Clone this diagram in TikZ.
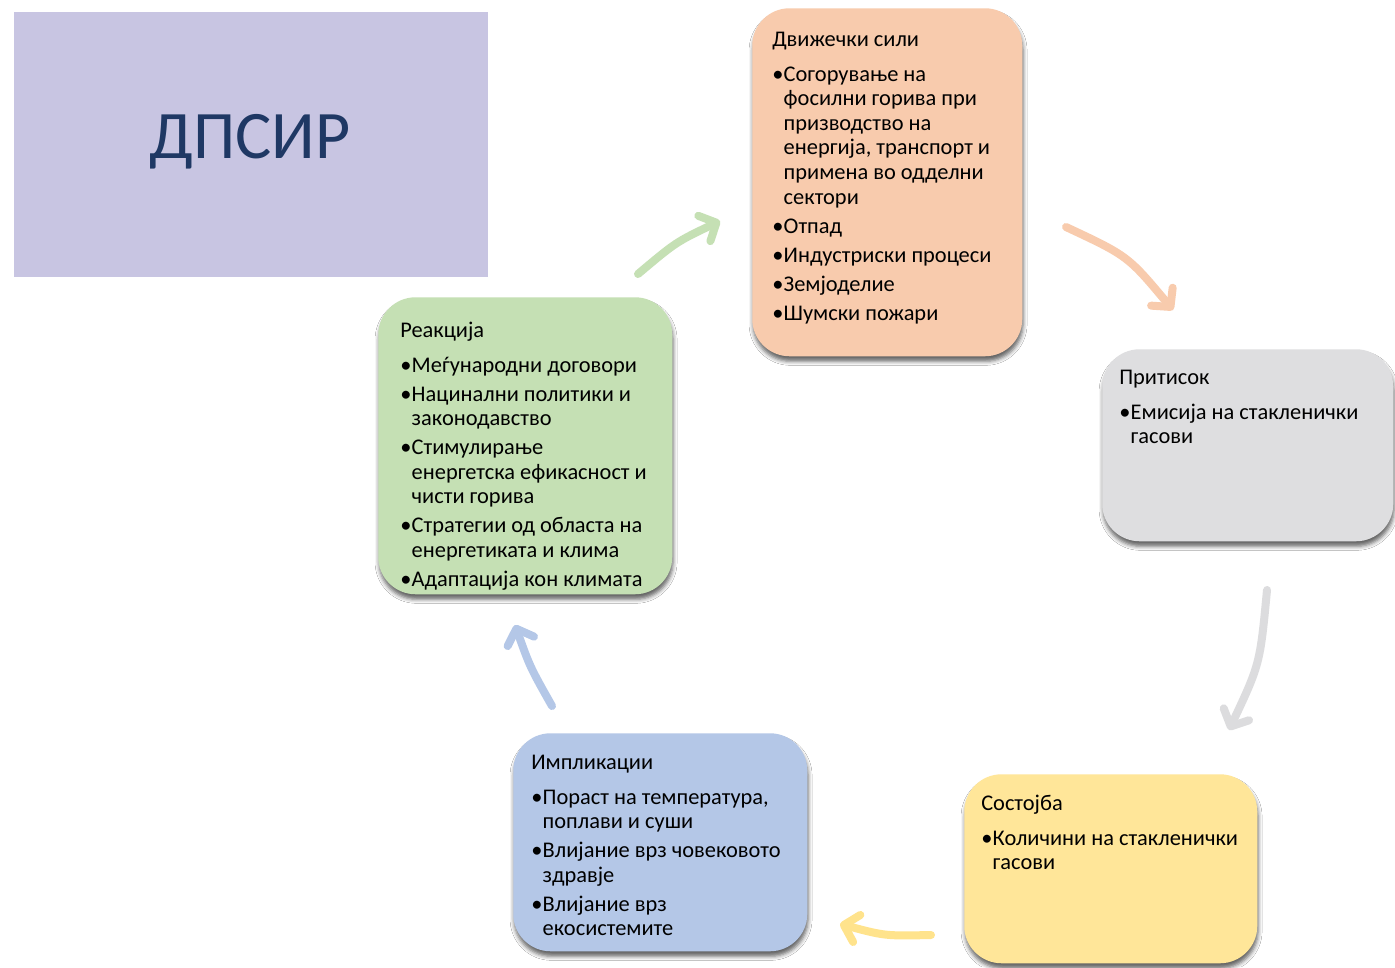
\documentclass[tikz,border=0pt]{standalone}
\usepackage{fontspec}
\setmainfont{Carlito}
\usetikzlibrary{arrows.meta,shadows.blur}
\definecolor{lav}{HTML}{C8C5E2}
\definecolor{ora}{HTML}{F8CBAD}
\definecolor{gry}{HTML}{DEDEE0}
\definecolor{yel}{HTML}{FFE699}
\definecolor{blu}{HTML}{B4C7E7}
\definecolor{grn}{HTML}{C5E0B4}
\definecolor{navy}{HTML}{1F3864}
\definecolor{arrgray}{HTML}{DCDCDE}
\definecolor{arryel}{HTML}{FFE38C}
\newcommand{\bl}{\makebox[8.6pt][l]{\textbullet}}
\newcommand{\bodyfs}{\fontsize{16.8}{18.45}\selectfont}
\begin{document}
\begin{tikzpicture}[x=0.75pt,y=-0.75pt,
  card/.style={rectangle, rounded corners=28pt, inner sep=0pt, anchor=north west,
    blur shadow={shadow xshift=0.6pt, shadow yshift=-3.8pt, shadow blur radius=3pt, shadow opacity=60}},
  txt/.style={anchor=base west, inner sep=0pt, font=\bodyfs, align=left},
  flow/.style={line width=6pt, line cap=round,
    -{Straight Barb[length=10pt,width=21pt,round]}}]
\useasboundingbox (0,0) rectangle (1395,967);
\fill[white] (0,0) rectangle (1395,967);

% title box
\node[rectangle, fill=lav, anchor=north west, inner sep=0pt,
  minimum width=355.5pt, minimum height=198.75pt] (titlebox) at (14,12) {};
\node[anchor=base, inner sep=0pt, text=navy, font=\fontsize{51}{60}\selectfont] (ttl) at (250,158) {ДПСИР};

% cards
\node[card, fill=ora, minimum width=202.5pt, minimum height=261pt] (drv) at (752,8) {};
\node[card, fill=gry, minimum width=218.25pt, minimum height=144pt] (prs) at (1102,349) {};
\node[card, fill=yel, minimum width=219.75pt, minimum height=141.75pt] (sta) at (964,774) {};
\node[card, fill=blu, minimum width=220.5pt, minimum height=163.5pt] (imp) at (513,733) {};
\node[card, fill=grn, minimum width=220.5pt, minimum height=222.75pt] (rea) at (378,297) {};

% texts
\node[txt] (drvt) at (772,46) {\begin{tabular}[t]{@{}l@{}l@{}}
\multicolumn{2}{@{}l@{}}{Движечки сили}\\[7.8pt]
\bl & Согорување на\\
 & фосилни горива при\\
 & призводство на\\
 & енергија, транспорт и\\
 & примена во одделни\\
 & сектори\\[3.3pt]
\bl & Отпад\\[3.3pt]
\bl & Индустриски процеси\\[3.3pt]
\bl & Земјоделие\\[3.3pt]
\bl & Шумски пожари
\end{tabular}};

\node[txt] (prst) at (1119,384) {\begin{tabular}[t]{@{}l@{}l@{}}
\multicolumn{2}{@{}l@{}}{Притисок}\\[7.8pt]
\bl & Емисија на стакленички\\
 & гасови
\end{tabular}};

\node[txt] (stat) at (981,810) {\begin{tabular}[t]{@{}l@{}l@{}}
\multicolumn{2}{@{}l@{}}{Состојба}\\[7.8pt]
\bl & Количини на стакленички\\
 & гасови
\end{tabular}};

\node[txt] (impt) at (531,769) {\begin{tabular}[t]{@{}l@{}l@{}}
\multicolumn{2}{@{}l@{}}{Импликации}\\[7.8pt]
\bl & Пораст на температура,\\
 & поплави и суши\\[3.3pt]
\bl & Влијание врз човековото\\
 & здравје\\[3.3pt]
\bl & Влијание врз\\
 & екосистемите
\end{tabular}};

\node[txt] (reat) at (400,337) {\begin{tabular}[t]{@{}l@{}l@{}}
\multicolumn{2}{@{}l@{}}{Реакција}\\[7.8pt]
\bl & Меѓународни договори\\[3.3pt]
\bl & Нацинални политики и\\
 & законодавство\\[3.3pt]
\bl & Стимулирање\\
 & енергетска ефикасност и\\
 & чисти горива\\[3.3pt]
\bl & Стратегии од областа на\\
 & енергетиката и клима\\[3.3pt]
\bl & Адаптација кон климата
\end{tabular}};

% arrows
\coordinate (g1) at (638,274); \coordinate (gc) at (676,242); \coordinate (g2) at (720,221);
\draw[flow, draw=grn] (g1) .. controls (gc) .. (g2);
\coordinate (o1) at (1066,227); \coordinate (oc) at (1128,256); \coordinate (o2) at (1173,310);
\draw[flow, draw=ora] (o1) .. controls (oc) .. (o2);
\coordinate (p1) at (1267,590); \coordinate (pc) at (1260,664); \coordinate (p2) at (1229,730);
\draw[flow, draw=arrgray] (p1) .. controls (pc) .. (p2);
\coordinate (s1) at (931,935); \coordinate (sc) at (885,936); \coordinate (s2) at (840,924);
\draw[flow, draw=arryel] (s1) .. controls (sc) .. (s2);
\coordinate (i1) at (552,706); \coordinate (ic) at (530,667); \coordinate (i2) at (515,625);
\draw[flow, draw=blu] (i1) .. controls (ic) .. (i2);
\end{tikzpicture}
\end{document}
